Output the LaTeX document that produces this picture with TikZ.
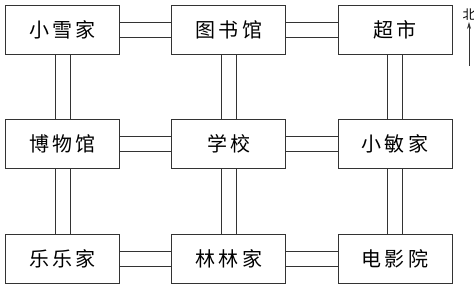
\documentclass[tikz,border=0pt]{standalone}
\usepackage{fontspec}
\setmainfont{Noto Sans CJK SC}
\usepackage{tikz}
\usetikzlibrary{arrows.meta, positioning}

\begin{document}
\begin{tikzpicture}[
    place/.style={draw=black!80, line width=0.8pt, fill=white,
                  minimum width=114pt, minimum height=49pt,
                  inner sep=0pt, font=\fontsize{20}{24}\selectfont},
    road/.style={draw=black!80, line width=0.8pt},
    arr/.style={-{Stealth[length=7pt, width=4pt]}, line width=0.7pt, black!80}
  ]
  \useasboundingbox (0,0) rectangle (474pt,-289pt);
  \node[place, anchor=north west] (xiaoxue) at (5pt,-4.5pt) {小\,雪\,家};
  \node[place, right=51.5pt of xiaoxue]  (tushu)    {图\,书\,馆};
  \node[place, right=51.5pt of tushu]    (chaoshi)  {超\,市};
  \node[place, below=65pt of xiaoxue]    (bowu)     {博\,物\,馆};
  \node[place, right=51.5pt of bowu]     (xuexiao)  {学\,校};
  \node[place, right=51.5pt of xuexiao]  (xiaomin)  {小\,敏\,家};
  \node[place, below=65pt of bowu]       (lele)     {乐\,乐\,家};
  \node[place, right=51.5pt of lele]     (linlin)   {林\,林\,家};
  \node[place, right=51.5pt of linlin]   (dianying) {电\,影\,院};
  % east-west roads
  \foreach \a/\b in {xiaoxue/tushu, tushu/chaoshi, bowu/xuexiao,
                     xuexiao/xiaomin, lele/linlin, linlin/dianying}
    \foreach \s in {-7.5pt, 7.5pt}
      \draw[road] ([yshift=\s]\a.east) -- ([yshift=\s]\b.west);
  % north-south roads
  \foreach \a/\b in {xiaoxue/bowu, bowu/lele, tushu/xuexiao,
                     xuexiao/linlin, chaoshi/xiaomin, xiaomin/dianying}
    \foreach \s in {-7.5pt, 7.5pt}
      \draw[road] ([xshift=\s]\a.south) -- ([xshift=\s]\b.north);
  % north
  \node[font=\fontsize{13}{15}\selectfont, inner sep=1pt] (bei) at (469pt,-15pt) {北};
  \coordinate (nord) at (469pt,-66pt);
  \draw[arr] (nord) -- (bei);
\end{tikzpicture}
\end{document}
